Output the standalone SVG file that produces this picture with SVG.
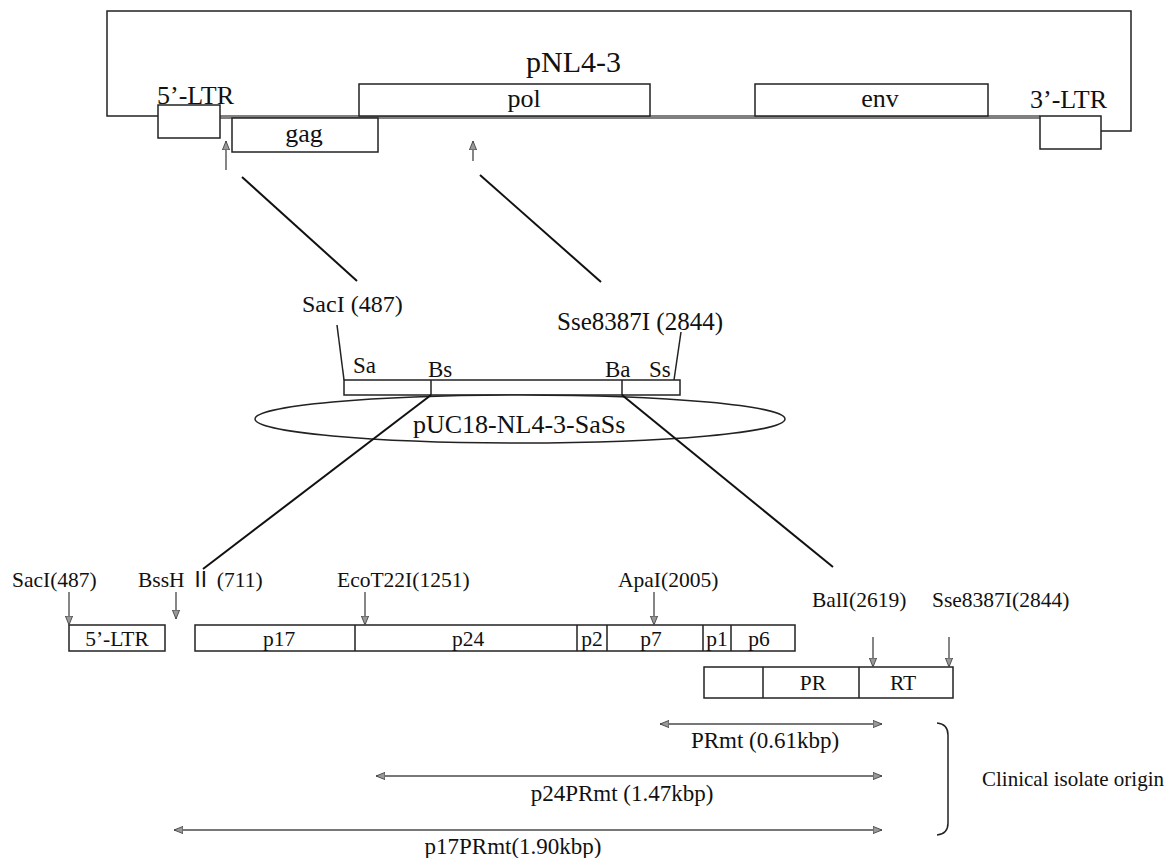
<svg xmlns="http://www.w3.org/2000/svg" width="1174" height="858" viewBox="0 0 1174 858">
<defs>
<style>
text{font-family:"Liberation Serif","Noto Sans CJK JP",serif;fill:#111}
.box{fill:#fff;stroke:#222;stroke-width:1.5}
.ln{fill:none;stroke:#222;stroke-width:1.5}
.cn{fill:none;stroke:#111;stroke-width:2}
.ar{fill:none;stroke:#444;stroke-width:1.3}
.dbl{fill:none;stroke:#777;stroke-width:2}
.m{text-anchor:middle}
.t26{font-size:26px}
.s21{font-size:21.5px}
.s23{font-size:23px}
</style>
<marker id="ah" viewBox="0 0 10 10" refX="10" refY="5" markerWidth="9" markerHeight="10" markerUnits="userSpaceOnUse" orient="auto-start-reverse">
<path d="M0,1 L10,5 L0,9 z" fill="#999" stroke="#444" stroke-width="1"/>
</marker>
</defs>
<rect width="1174" height="858" fill="#fff"/>

<g id="pNL4-3">
<path class="ln" d="M158,116 H107 V11 H1131 V131 H1101"/>
<line x1="220" y1="117" x2="1040" y2="117" stroke="#808080" stroke-width="4"/>
<text x="526" y="72" style="font-size:30px">pNL4-3</text>
</g>
<g id="ltr5-top"><rect class="box" x="158" y="105" width="62" height="33"/><text class="t26" x="157" y="104">5’-LTR</text></g>
<g id="gag-top"><rect class="box" x="232" y="118" width="146" height="34"/><text class="m t26" x="304" y="142">gag</text></g>
<g id="pol-top"><rect class="box" x="359" y="84" width="291" height="32"/><text class="m t26" x="524" y="107">pol</text></g>
<g id="env-top"><rect class="box" x="755" y="84" width="233" height="32"/><text class="m t26" x="880" y="107">env</text></g>
<g id="ltr3-top"><rect class="box" x="1040" y="116" width="61" height="33"/><text class="t26" x="1030" y="108">3’-LTR</text></g>

<g id="insert">
<text x="302" y="312" style="font-size:24px">SacI (487)</text>
<text x="557" y="330" style="font-size:25px">Sse8387I (2844)</text>
<rect class="box" x="344" y="380" width="336" height="15"/>
<line class="ln" x1="431" y1="380" x2="431" y2="395"/>
<line class="ln" x1="622" y1="380" x2="622" y2="395"/>
<text style="font-size:23px" x="353" y="373">Sa</text>
<text style="font-size:23px" x="428" y="377">Bs</text>
<text style="font-size:23px" x="605" y="377">Ba</text>
<text style="font-size:23px" x="649" y="377">Ss</text>
</g>
<g id="pUC18">
<ellipse class="box" cx="520" cy="419" rx="265" ry="24"/>
<text x="413" y="433" style="font-size:26px">pUC18-NL4-3-SaSs</text>
</g>

<g id="sites">
<text class="s21" x="12" y="587">SacI(487)</text>
<text class="s21" x="138" y="587">BssH Ⅱ (711)</text>
<text class="s21" x="337" y="587">EcoT22I(1251)</text>
<text class="s21" x="618" y="587">ApaI(2005)</text>
<text class="s21" x="812" y="607">BalI(2619)</text>
<text class="s21" x="932" y="607">Sse8387I(2844)</text>
</g>
<g id="ltr5"><rect class="box" x="69" y="625" width="96" height="26"/><text class="m s21" x="117" y="646">5’-LTR</text></g>
<g id="gag">
<rect class="box" x="195" y="625" width="600" height="26"/>
<path class="ln" d="M355,625 V651 M577,625 V651 M607,625 V651 M703,625 V651 M731,625 V651"/>
<text class="m s21" x="279" y="646">p17</text>
<text class="m s21" x="468" y="646">p24</text>
<text class="m s21" x="592" y="646">p2</text>
<text class="m s21" x="651" y="646">p7</text>
<text class="m s21" x="717" y="646">p1</text>
<text class="m s21" x="759" y="646">p6</text>
</g>
<g id="pol">
<rect class="box" x="704" y="667" width="249" height="31"/>
<path class="ln" d="M763,667 V698 M859,667 V698"/>
<text class="m s21" x="813" y="690">PR</text>
<text class="m s21" x="903" y="690">RT</text>
</g>

<g id="fragments">
<text class="m s23" x="765" y="748">PRmt (0.61kbp)</text>
<text class="m s23" x="622" y="801">p24PRmt (1.47kbp)</text>
<text class="m s23" x="513" y="854">p17PRmt(1.90kbp)</text>
<path class="ln" d="M937,723 Q948,724 948,735 V823 Q948,834 937,835"/>
<text x="982" y="786" style="font-size:21px">Clinical isolate origin</text>
</g>

<g id="connectors">
<line class="ar" x1="226" y1="170" x2="226" y2="141" marker-end="url(#ah)"/>
<line class="ar" x1="473" y1="161" x2="473" y2="141" marker-end="url(#ah)"/>
<line class="cn" x1="242" y1="177" x2="357" y2="281"/>
<line class="cn" x1="480" y1="175" x2="601" y2="282"/>
<line class="ln" x1="337" y1="325" x2="344" y2="380"/>
<line class="ln" x1="681" y1="332" x2="674" y2="380"/>
<line class="cn" x1="431" y1="395" x2="203" y2="569"/>
<line class="cn" x1="622" y1="395" x2="833" y2="567"/>
<line class="ar" x1="69" y1="592" x2="69" y2="625" marker-end="url(#ah)"/>
<line class="ar" x1="176" y1="592" x2="176" y2="619" marker-end="url(#ah)"/>
<line class="ar" x1="365" y1="592" x2="365" y2="625" marker-end="url(#ah)"/>
<line class="ar" x1="654" y1="592" x2="654" y2="625" marker-end="url(#ah)"/>
<line class="ar" x1="873" y1="637" x2="873" y2="667" marker-end="url(#ah)"/>
<line class="ar" x1="949" y1="637" x2="949" y2="667" marker-end="url(#ah)"/>
<line class="dbl" x1="660" y1="724" x2="882" y2="724" marker-start="url(#ah)" marker-end="url(#ah)"/>
<line class="dbl" x1="376" y1="776" x2="882" y2="776" marker-start="url(#ah)" marker-end="url(#ah)"/>
<line class="dbl" x1="174" y1="830" x2="882" y2="830" marker-start="url(#ah)" marker-end="url(#ah)"/>
</g>
</svg>
